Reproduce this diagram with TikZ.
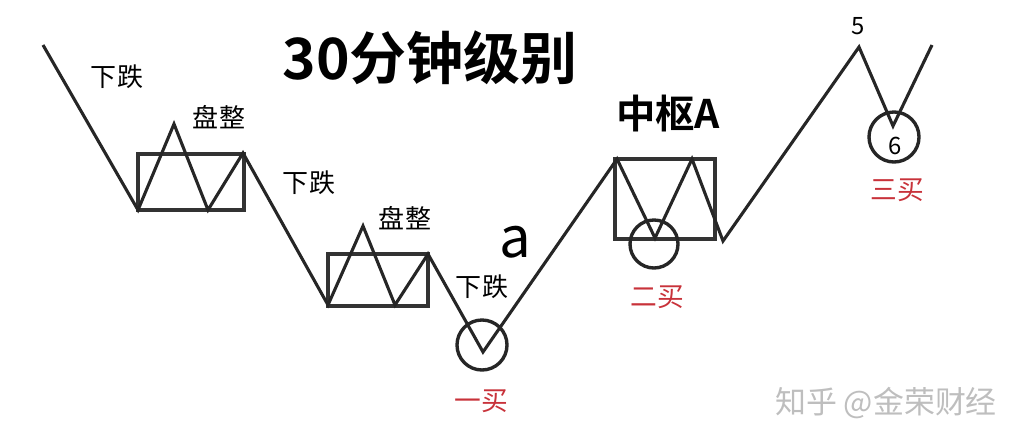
\documentclass[tikz,border=0pt]{standalone}
\usepackage{fontspec}
\setmainfont{Noto Sans CJK SC}
\newfontfamily\cjkbold{Noto Sans CJK SC Bold}
\usepackage{tikz}
\usetikzlibrary{arrows.meta,positioning}
\definecolor{buyred}{RGB}{200,50,58}
\definecolor{markgray}{RGB}{190,190,190}

\begin{document}
\begin{tikzpicture}[x=0.025cm,y=-0.025cm,line join=miter,
    wave/.style={line width=2.2pt,black!85},
    zsbox/.style={draw,line width=2.8pt,black!80},
    ring/.style={circle,draw,line width=2.4pt,black!85,inner sep=0pt,minimum size=1.25cm},
    lbl/.style={font=\fontsize{18.5}{18.5}\selectfont,inner sep=0pt},
    buy/.style={font=\fontsize{19}{19}\selectfont,text=buyred,inner sep=0pt}]
            \useasboundingbox (0,0) rectangle (1029,447);
            % boxes
            \draw [zsbox] (138,154) rectangle (244,210);
            \draw [zsbox] (328,254) rectangle (428,306);
            \draw [zsbox] (615,159) rectangle (715,239);
            % vertices
            \coordinate (p0) at (43,45);
            \coordinate (p1) at (138,210);
            \coordinate (p2) at (174,124);
            \coordinate (p3) at (208,210);
            \coordinate (p4) at (243,153);
            \coordinate (p5) at (328,305);
            \coordinate (p6) at (363,226);
            \coordinate (p7) at (395,305);
            \coordinate (p8) at (428,254);
            \coordinate (p9) at (483,352);
            \coordinate (p10) at (617,159);
            \coordinate (p11) at (655,238);
            \coordinate (p12) at (692,159);
            \coordinate (p13) at (723,241);
            \coordinate (p14) at (859,47);
            \coordinate (p15) at (893,126);
            \coordinate (p16) at (932,45);
            \draw [wave] (p0) -- (p1) -- (p2) -- (p3) -- (p4) -- (p5) -- (p6) -- (p7) -- (p8)
                -- (p9) -- (p10) -- (p11) -- (p12) -- (p13) -- (p14) -- (p15) -- (p16);
            % circles
            \node [ring] (buy1) at (482,345) {};
            \node [ring,minimum size=1.2cm] (buy2) at (654,244) {};
            \node [ring] (buy3) at (894,137) {};
            % texts
            \node [font=\cjkbold\fontsize{40.5}{40.5}\selectfont] (title) at (430,58) {30分钟级别};
            \node [font=\cjkbold\fontsize{28}{28}\selectfont] (zsA) at (668,114) {中枢A};
            \node [lbl] (down1) at (117,77) {下跌};
            \node [lbl] (flat1) at (219,117) {盘整};
            \node [lbl] (down2) at (309,183) {下跌};
            \node [lbl] (flat2) at (405,218) {盘整};
            \node [lbl] (down3) at (482,287) {下跌};
            \node [font=\fontsize{40}{40}\selectfont,inner sep=0pt] (a) at (515,242) {a};
            \node [font=\fontsize{17}{17}\selectfont,inner sep=0pt] (five) at (858,26) {5};
            \node [font=\fontsize{17}{17}\selectfont,inner sep=0pt] (six) at (895,146) {6};
            \node [buy] (b1) at (481,401) {一买};
            \node [buy] (b2) at (657,297) {二买};
            \node [buy] (b3) at (897,190) {三买};
            \node [font=\fontsize{22}{22}\selectfont,text=markgray,inner sep=0pt] (mark) at (886,403) {知乎 @金荣财经};
        \end{tikzpicture}
\end{document}
